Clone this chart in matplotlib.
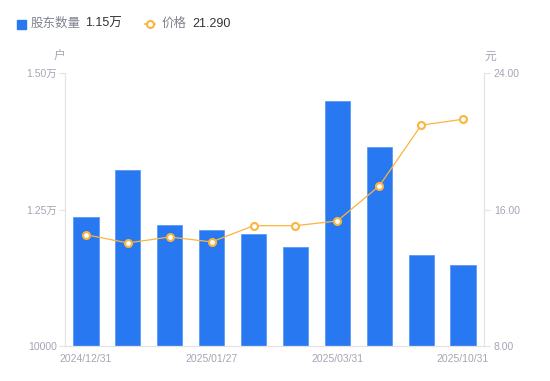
import matplotlib.pyplot as plt

plt.rcParams['font.family'] = ['Liberation Sans', 'Noto Sans CJK SC', 'DejaVu Sans']

# data
dates = ['2024/12/31', '2025/01/10', '2025/01/20', '2025/01/27', '2025/02/10',
         '2025/02/28', '2025/03/31', '2025/06/30', '2025/09/30', '2025/10/31']
holders = [12357, 13223, 12222, 12119, 12046, 11813, 14487, 13639, 11661, 11480]
price = [14.52, 14.04, 14.39, 14.10, 15.05, 15.05, 15.33, 17.38, 20.94, 21.29]

shown_ticks = [0, 3, 6, 9]

BLUE = '#2878f2'
ORANGE = '#fbb43c'
GRAY = '#a3a6b4'
AXIS = '#e3e3e6'

fig = plt.figure(figsize=(5.5, 3.81), dpi=100)
ax = fig.add_axes([65 / 550, 1 - 346 / 381, (484 - 65) / 550, (346 - 73) / 381])
ax2 = ax.twinx()

x = list(range(len(dates)))
ax.bar(x, holders, width=0.6, color=BLUE, edgecolor='#5c9af5', linewidth=0.6, zorder=2)
ax.set_xlim(-0.5, len(dates) - 0.5)
ax.set_ylim(10000, 15000)
ax.set_yticks([10000, 12500, 15000], ['10000', '1.25万', '1.50万'])
ax.set_xticks([x[i] for i in shown_ticks], [dates[i] for i in shown_ticks])

ax2.plot(x, price, color=ORANGE, linewidth=0.9, marker='o', markersize=5,
         markerfacecolor='white', markeredgecolor=ORANGE, markeredgewidth=1.5, zorder=3)
ax2.set_ylim(8, 24)
ax2.set_yticks([8, 16, 24], ['8.00', '16.00', '24.00'])

for a in (ax, ax2):
    for s in a.spines.values():
        s.set_visible(False)
ax.spines['left'].set_visible(True)
ax.spines['bottom'].set_visible(True)
ax2.spines['right'].set_visible(True)
for s in (ax.spines['left'], ax.spines['bottom'], ax2.spines['right']):
    s.set_color(AXIS)
    s.set_linewidth(0.9)

ax.tick_params(axis='y', length=4, width=0.8, color=AXIS, labelsize=7.5,
               labelcolor=GRAY, pad=2)
ax.tick_params(axis='x', length=0, labelsize=7.5, labelcolor=GRAY, pad=6)
ax2.tick_params(axis='y', length=4, width=0.8, color=AXIS, labelsize=7.5,
                labelcolor=GRAY, pad=3)
ax.set_zorder(ax2.get_zorder() - 1)
ax2.patch.set_visible(False)

# unit labels
fig.text(59 / 550, 1 - 57 / 381, '户', fontsize=8.5, color=GRAY, ha='center', va='center')
fig.text(490 / 550, 1 - 57 / 381, '元', fontsize=8.5, color=GRAY, ha='center', va='center')

# legend row
ly = 1 - 24 / 381
fig.patches.append(plt.Rectangle((17 / 550, 1 - 29 / 381), 9 / 550, 9 / 381,
                                 transform=fig.transFigure, color=BLUE, figure=fig))
fig.text(31 / 550, ly, '股东数量', fontsize=9, color='#80838f', va='center')
fig.text(85 / 550, ly, '1.15万', fontsize=9, color='#333333', va='center')
fig.lines.append(plt.Line2D([145 / 550, 155 / 550], [ly, ly], transform=fig.transFigure,
                            color=ORANGE, linewidth=1.2, figure=fig))
fig.lines.append(plt.Line2D([150 / 550], [ly], transform=fig.transFigure, color=ORANGE,
                            marker='o', markersize=5, markerfacecolor='white',
                            markeredgewidth=1.5, figure=fig))
fig.text(162 / 550, ly, '价格', fontsize=9, color='#80838f', va='center')
fig.text(192 / 550, ly, '21.290', fontsize=9, color='#333333', va='center')

fig.savefig('out.png', dpi=100)
